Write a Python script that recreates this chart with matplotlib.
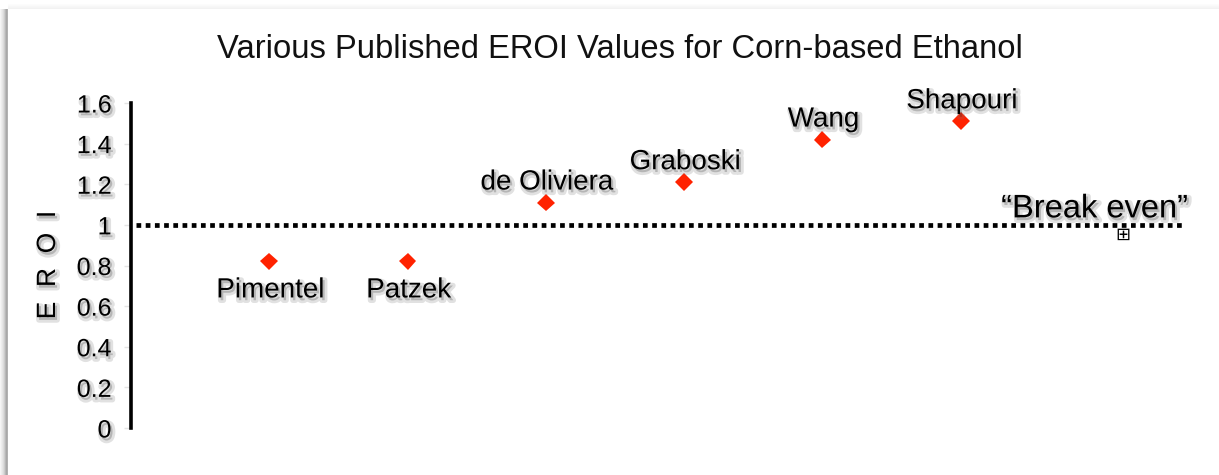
import matplotlib
matplotlib.use("Agg")
import matplotlib.pyplot as plt
import matplotlib.patheffects as pe
from matplotlib.patches import Rectangle

# values
authors = ["Pimentel", "Patzek", "de Oliviera", "Graboski", "Wang", "Shapouri"]
eroi = [0.82, 0.82, 1.11, 1.21, 1.42, 1.51]
label_below = [True, True, False, False, False, False]
y_ticks = [0, 0.2, 0.4, 0.6, 0.8, 1.0, 1.2, 1.4, 1.6]
y_tick_labels = ["0", "0.2", "0.4", "0.6", "0.8", "1", "1.2", "1.4", "1.6"]
break_even = 1.0

plt.rcParams["font.family"] = ["Liberation Sans", "DejaVu Sans"]

fig = plt.figure(figsize=(12.19, 4.75), dpi=100)
fig.patch.set_facecolor("white")

# card shadow on the left and top edge
for i, a in enumerate([0.04, 0.07, 0.1, 0.14, 0.2, 0.28, 0.34, 0.3]):
    fig.patches.append(Rectangle((i / 1219, 0), 1 / 1219, 1 - 9 / 475, transform=fig.transFigure,
                                 color="black", alpha=a, lw=0, zorder=0))
for i, a in enumerate([0.01, 0.02, 0.03, 0.04, 0.05]):
    fig.patches.append(Rectangle((8 / 1219, 1 - (5 + i) / 475), 1, 1 / 475, transform=fig.transFigure,
                                 color="black", alpha=a, lw=0, zorder=0))

ax = fig.add_axes([131 / 1219, 1 - 428 / 475, (1182 - 131) / 1219, (428 - 103) / 475])
ax.set_facecolor("none")

shadow = [pe.Stroke(linewidth=4, foreground="#777777", alpha=0.22, offset=(1.5, -2)), pe.Normal()]

xs = list(range(1, len(authors) + 1))
ax.plot(xs, eroi, linestyle="none", marker="D", markersize=9, color="#ff2200",
        markeredgewidth=0, zorder=3,
        path_effects=[pe.SimpleLineShadow(offset=(2, -3), shadow_color="black", alpha=0.25), pe.Normal()])

for x, v, name, below in zip(xs, eroi, authors, label_below):
    ax.annotate(name, (x, v), xytext=(1, -29 if below else 20), textcoords="offset pixels",
                ha="center", va="center", fontsize=20, color="black", path_effects=shadow)

ax.axhline(break_even, xmin=0.005, xmax=1, color="black", lw=3.4,
           linestyle=(0, (1, 0.95)), zorder=2)
ax.annotate("\u201cBreak even\u201d", (7.6, break_even), xytext=(6, 16), textcoords="offset pixels",
            ha="right", va="center", fontsize=23.5, color="black", path_effects=shadow)
ax.annotate("\u229e", (7.17, break_even), xytext=(0, -10), textcoords="offset pixels",
            ha="center", va="center", fontsize=13, family="DejaVu Sans", color="black")

ax.set_xlim(0, 7.6)
ax.set_ylim(0, 1.6)
ax.set_yticks(y_ticks)
ax.set_yticklabels(y_tick_labels, fontsize=18)
for t in ax.get_yticklabels():
    t.set_path_effects(shadow)
ax.tick_params(axis="y", length=5, width=1, color="#e4e4e4", pad=9)
ax.set_xticks([])
for s in ["top", "right", "bottom"]:
    ax.spines[s].set_visible(False)
ax.spines["left"].set_linewidth(2.6)

fig.text(48 / 1219, 1 - 265 / 475, "E  R  O  I", rotation=90, ha="center", va="center",
         fontsize=19, path_effects=shadow)
fig.text(620 / 1219, 1 - 50 / 475, "Various Published EROI Values for Corn-based Ethanol",
         ha="center", va="center", fontsize=23.6, color="#111111")

fig.savefig("out.png", dpi=100)
